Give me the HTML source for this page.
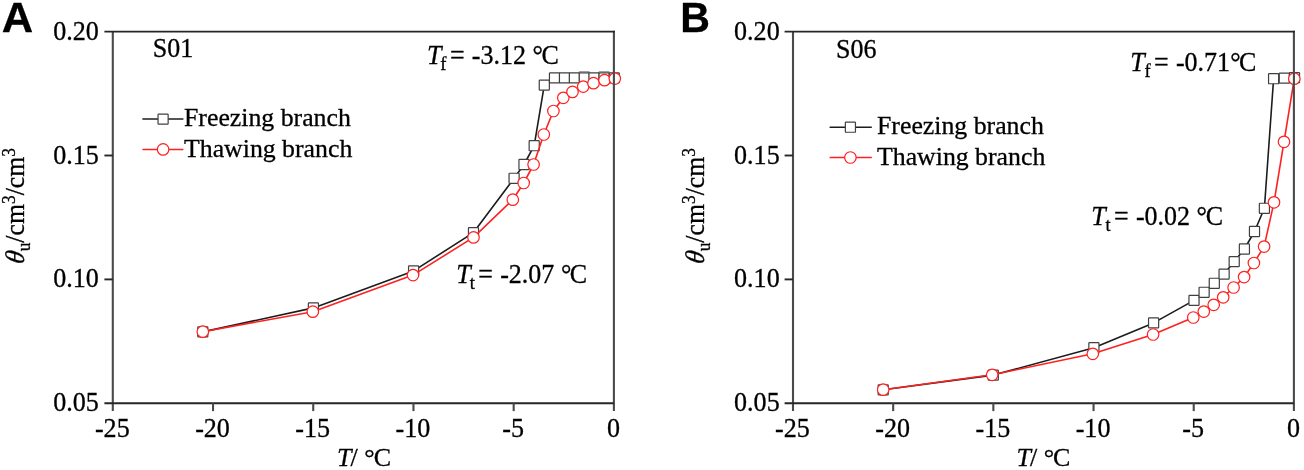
<!DOCTYPE html>
<html><head><meta charset="utf-8"><title>Figure</title>
<style>
html,body{margin:0;padding:0;background:#fff;}
svg{display:block;filter:blur(0.55px);}
text{font-family:"Liberation Serif", serif;fill:#000;stroke:#000;stroke-width:0.3px;}
.tk{font-size:26.1px;}
.an{font-size:26px;}
.lg{font-size:25.8px;}
.yl{font-size:25.8px;}
.pl{font-family:"Liberation Sans",sans-serif;font-weight:bold;font-size:43.5px;fill:#000;}
</style></head>
<body>
<svg width="1304" height="470" viewBox="0 0 1304 470">
<rect width="1304" height="470" fill="#fff"/>
<rect x="579.25" y="71.55" width="10.1" height="10.1" fill="#fff" stroke="#a0a0a0" stroke-width="1.2" rx="0.6"/>
<rect x="599.05" y="71.55" width="10.1" height="10.1" fill="#fff" stroke="#a0a0a0" stroke-width="1.2" rx="0.6"/>
<polyline points="202.80,331.90 313.40,307.90 413.60,270.90 473.50,232.60 514.10,178.30 524.00,164.50 534.20,145.70 544.30,85.10 554.50,77.90 564.50,77.90 574.40,77.90 584.30,77.90 594.00,77.90 604.10,77.90 614.30,77.90" fill="none" stroke="#1c1c1c" stroke-width="1.6" stroke-linejoin="round"/>
<rect x="197.75" y="326.85" width="10.1" height="10.1" fill="#fff" stroke="#404040" stroke-width="1.2" rx="0.6"/>
<rect x="308.35" y="302.85" width="10.1" height="10.1" fill="#fff" stroke="#404040" stroke-width="1.2" rx="0.6"/>
<rect x="408.55" y="265.85" width="10.1" height="10.1" fill="#fff" stroke="#404040" stroke-width="1.2" rx="0.6"/>
<rect x="468.45" y="227.55" width="10.1" height="10.1" fill="#fff" stroke="#404040" stroke-width="1.2" rx="0.6"/>
<rect x="509.05" y="173.25" width="10.1" height="10.1" fill="#fff" stroke="#404040" stroke-width="1.2" rx="0.6"/>
<rect x="518.95" y="159.45" width="10.1" height="10.1" fill="#fff" stroke="#404040" stroke-width="1.2" rx="0.6"/>
<rect x="529.15" y="140.65" width="10.1" height="10.1" fill="#fff" stroke="#404040" stroke-width="1.2" rx="0.6"/>
<rect x="539.25" y="80.05" width="10.1" height="10.1" fill="#fff" stroke="#404040" stroke-width="1.2" rx="0.6"/>
<rect x="549.45" y="72.85" width="10.1" height="10.1" fill="#fff" stroke="#404040" stroke-width="1.2" rx="0.6"/>
<rect x="559.45" y="72.85" width="10.1" height="10.1" fill="#fff" stroke="#404040" stroke-width="1.2" rx="0.6"/>
<rect x="569.35" y="72.85" width="10.1" height="10.1" fill="#fff" stroke="#404040" stroke-width="1.2" rx="0.6"/>
<rect x="579.25" y="72.85" width="10.1" height="10.1" fill="#fff" stroke="#404040" stroke-width="1.2" rx="0.6"/>
<rect x="588.95" y="72.85" width="10.1" height="10.1" fill="#fff" stroke="#404040" stroke-width="1.2" rx="0.6"/>
<rect x="599.05" y="72.85" width="10.1" height="10.1" fill="#fff" stroke="#404040" stroke-width="1.2" rx="0.6"/>
<rect x="609.25" y="72.85" width="10.1" height="10.1" fill="#fff" stroke="#404040" stroke-width="1.2" rx="0.6"/>
<polyline points="202.80,331.70 312.80,311.70 413.00,275.10 473.50,237.40 512.80,199.70 523.70,183.00 533.60,164.50 543.80,134.50 553.40,111.00 563.30,97.80 572.50,91.90 583.20,86.60 593.50,83.20 604.50,80.20 614.80,78.60" fill="none" stroke="#ff2020" stroke-width="1.6" stroke-linejoin="round"/>
<circle cx="202.80" cy="331.70" r="5.75" fill="#fff" stroke="#ff2020" stroke-width="1.2"/>
<circle cx="312.80" cy="311.70" r="5.75" fill="#fff" stroke="#ff2020" stroke-width="1.2"/>
<circle cx="413.00" cy="275.10" r="5.75" fill="#fff" stroke="#ff2020" stroke-width="1.2"/>
<circle cx="473.50" cy="237.40" r="5.75" fill="#fff" stroke="#ff2020" stroke-width="1.2"/>
<circle cx="512.80" cy="199.70" r="5.75" fill="#fff" stroke="#ff2020" stroke-width="1.2"/>
<circle cx="523.70" cy="183.00" r="5.75" fill="#fff" stroke="#ff2020" stroke-width="1.2"/>
<circle cx="533.60" cy="164.50" r="5.75" fill="#fff" stroke="#ff2020" stroke-width="1.2"/>
<circle cx="543.80" cy="134.50" r="5.75" fill="#fff" stroke="#ff2020" stroke-width="1.2"/>
<circle cx="553.40" cy="111.00" r="5.75" fill="#fff" stroke="#ff2020" stroke-width="1.2"/>
<circle cx="563.30" cy="97.80" r="5.75" fill="#fff" stroke="#ff2020" stroke-width="1.2"/>
<circle cx="572.50" cy="91.90" r="5.75" fill="#fff" stroke="#ff2020" stroke-width="1.2"/>
<circle cx="583.20" cy="86.60" r="5.75" fill="#fff" stroke="#ff2020" stroke-width="1.2"/>
<circle cx="593.50" cy="83.20" r="5.75" fill="#fff" stroke="#ff2020" stroke-width="1.2"/>
<circle cx="604.50" cy="80.20" r="5.75" fill="#fff" stroke="#ff2020" stroke-width="1.2"/>
<circle cx="614.80" cy="78.60" r="5.75" fill="#fff" stroke="#ff2020" stroke-width="1.2"/>
<path d="M613.9,30.700000000000003V411.1 M112.8,31.6V411.1" fill="none" stroke="#4a4a4a" stroke-width="2.1"/>
<path d="M104.39999999999999,31.6H614.9 M104.39999999999999,403.3H613.9" fill="none" stroke="#262626" stroke-width="1.9"/>
<line x1="213.02" y1="403.3" x2="213.02" y2="411.1" stroke="#4a4a4a" stroke-width="2.1"/>
<line x1="313.24" y1="403.3" x2="313.24" y2="411.1" stroke="#4a4a4a" stroke-width="2.1"/>
<line x1="413.46" y1="403.3" x2="413.46" y2="411.1" stroke="#4a4a4a" stroke-width="2.1"/>
<line x1="513.68" y1="403.3" x2="513.68" y2="411.1" stroke="#4a4a4a" stroke-width="2.1"/>
<line x1="104.39999999999999" y1="155.50" x2="112.8" y2="155.50" stroke="#262626" stroke-width="1.9"/>
<line x1="104.39999999999999" y1="279.40" x2="112.8" y2="279.40" stroke="#262626" stroke-width="1.9"/>
<text transform="translate(112.30,436.8) scale(1,1.045)" text-anchor="middle" class="tk">-25</text>
<text transform="translate(212.52,436.8) scale(1,1.045)" text-anchor="middle" class="tk">-20</text>
<text transform="translate(312.74,436.8) scale(1,1.045)" text-anchor="middle" class="tk">-15</text>
<text transform="translate(412.96,436.8) scale(1,1.045)" text-anchor="middle" class="tk">-10</text>
<text transform="translate(513.18,436.8) scale(1,1.045)" text-anchor="middle" class="tk">-5</text>
<text transform="translate(613.40,436.8) scale(1,1.045)" text-anchor="middle" class="tk">0</text>
<text transform="translate(98.80,39.60) scale(1,1.045)" text-anchor="end" class="tk">0.20</text>
<text transform="translate(98.80,163.50) scale(1,1.045)" text-anchor="end" class="tk">0.15</text>
<text transform="translate(98.80,287.40) scale(1,1.045)" text-anchor="end" class="tk">0.10</text>
<text transform="translate(98.80,411.30) scale(1,1.045)" text-anchor="end" class="tk">0.05</text>
<polyline points="883.20,389.80 993.30,375.10 1093.90,347.70 1153.60,322.90 1194.00,300.40 1204.10,292.30 1214.30,283.30 1224.10,274.10 1234.20,261.60 1244.40,249.00 1254.50,231.50 1264.40,208.30 1273.60,78.70 1284.30,78.10 1294.50,77.70" fill="none" stroke="#1c1c1c" stroke-width="1.6" stroke-linejoin="round"/>
<rect x="878.15" y="384.75" width="10.1" height="10.1" fill="#fff" stroke="#404040" stroke-width="1.2" rx="0.6"/>
<rect x="988.25" y="370.05" width="10.1" height="10.1" fill="#fff" stroke="#404040" stroke-width="1.2" rx="0.6"/>
<rect x="1088.85" y="342.65" width="10.1" height="10.1" fill="#fff" stroke="#404040" stroke-width="1.2" rx="0.6"/>
<rect x="1148.55" y="317.85" width="10.1" height="10.1" fill="#fff" stroke="#404040" stroke-width="1.2" rx="0.6"/>
<rect x="1188.95" y="295.35" width="10.1" height="10.1" fill="#fff" stroke="#404040" stroke-width="1.2" rx="0.6"/>
<rect x="1199.05" y="287.25" width="10.1" height="10.1" fill="#fff" stroke="#404040" stroke-width="1.2" rx="0.6"/>
<rect x="1209.25" y="278.25" width="10.1" height="10.1" fill="#fff" stroke="#404040" stroke-width="1.2" rx="0.6"/>
<rect x="1219.05" y="269.05" width="10.1" height="10.1" fill="#fff" stroke="#404040" stroke-width="1.2" rx="0.6"/>
<rect x="1229.15" y="256.55" width="10.1" height="10.1" fill="#fff" stroke="#404040" stroke-width="1.2" rx="0.6"/>
<rect x="1239.35" y="243.95" width="10.1" height="10.1" fill="#fff" stroke="#404040" stroke-width="1.2" rx="0.6"/>
<rect x="1249.45" y="226.45" width="10.1" height="10.1" fill="#fff" stroke="#404040" stroke-width="1.2" rx="0.6"/>
<rect x="1259.35" y="203.25" width="10.1" height="10.1" fill="#fff" stroke="#404040" stroke-width="1.2" rx="0.6"/>
<rect x="1268.55" y="73.65" width="10.1" height="10.1" fill="#fff" stroke="#404040" stroke-width="1.2" rx="0.6"/>
<rect x="1279.25" y="73.05" width="10.1" height="10.1" fill="#fff" stroke="#404040" stroke-width="1.2" rx="0.6"/>
<rect x="1289.45" y="72.65" width="10.1" height="10.1" fill="#fff" stroke="#404040" stroke-width="1.2" rx="0.6"/>
<polyline points="883.20,389.70 992.20,374.80 1092.80,353.80 1153.10,334.50 1193.30,317.50 1203.80,311.60 1213.70,304.80 1223.20,297.30 1233.60,287.50 1244.10,277.10 1253.90,263.00 1264.10,246.60 1274.00,202.30 1284.00,141.80 1294.30,78.70" fill="none" stroke="#ff2020" stroke-width="1.6" stroke-linejoin="round"/>
<circle cx="883.20" cy="389.70" r="5.75" fill="#fff" stroke="#ff2020" stroke-width="1.2"/>
<circle cx="992.20" cy="374.80" r="5.75" fill="#fff" stroke="#ff2020" stroke-width="1.2"/>
<circle cx="1092.80" cy="353.80" r="5.75" fill="#fff" stroke="#ff2020" stroke-width="1.2"/>
<circle cx="1153.10" cy="334.50" r="5.75" fill="#fff" stroke="#ff2020" stroke-width="1.2"/>
<circle cx="1193.30" cy="317.50" r="5.75" fill="#fff" stroke="#ff2020" stroke-width="1.2"/>
<circle cx="1203.80" cy="311.60" r="5.75" fill="#fff" stroke="#ff2020" stroke-width="1.2"/>
<circle cx="1213.70" cy="304.80" r="5.75" fill="#fff" stroke="#ff2020" stroke-width="1.2"/>
<circle cx="1223.20" cy="297.30" r="5.75" fill="#fff" stroke="#ff2020" stroke-width="1.2"/>
<circle cx="1233.60" cy="287.50" r="5.75" fill="#fff" stroke="#ff2020" stroke-width="1.2"/>
<circle cx="1244.10" cy="277.10" r="5.75" fill="#fff" stroke="#ff2020" stroke-width="1.2"/>
<circle cx="1253.90" cy="263.00" r="5.75" fill="#fff" stroke="#ff2020" stroke-width="1.2"/>
<circle cx="1264.10" cy="246.60" r="5.75" fill="#fff" stroke="#ff2020" stroke-width="1.2"/>
<circle cx="1274.00" cy="202.30" r="5.75" fill="#fff" stroke="#ff2020" stroke-width="1.2"/>
<circle cx="1284.00" cy="141.80" r="5.75" fill="#fff" stroke="#ff2020" stroke-width="1.2"/>
<circle cx="1294.30" cy="78.70" r="5.75" fill="#fff" stroke="#ff2020" stroke-width="1.2"/>
<path d="M1293.9,30.700000000000003V411.1 M793.0,31.6V411.1" fill="none" stroke="#4a4a4a" stroke-width="2.1"/>
<path d="M784.6,31.6H1294.9 M784.6,403.3H1293.9" fill="none" stroke="#262626" stroke-width="1.9"/>
<line x1="893.18" y1="403.3" x2="893.18" y2="411.1" stroke="#4a4a4a" stroke-width="2.1"/>
<line x1="993.36" y1="403.3" x2="993.36" y2="411.1" stroke="#4a4a4a" stroke-width="2.1"/>
<line x1="1093.54" y1="403.3" x2="1093.54" y2="411.1" stroke="#4a4a4a" stroke-width="2.1"/>
<line x1="1193.72" y1="403.3" x2="1193.72" y2="411.1" stroke="#4a4a4a" stroke-width="2.1"/>
<line x1="784.6" y1="155.50" x2="793.0" y2="155.50" stroke="#262626" stroke-width="1.9"/>
<line x1="784.6" y1="279.40" x2="793.0" y2="279.40" stroke="#262626" stroke-width="1.9"/>
<text transform="translate(792.50,436.8) scale(1,1.045)" text-anchor="middle" class="tk">-25</text>
<text transform="translate(892.68,436.8) scale(1,1.045)" text-anchor="middle" class="tk">-20</text>
<text transform="translate(992.86,436.8) scale(1,1.045)" text-anchor="middle" class="tk">-15</text>
<text transform="translate(1093.04,436.8) scale(1,1.045)" text-anchor="middle" class="tk">-10</text>
<text transform="translate(1193.22,436.8) scale(1,1.045)" text-anchor="middle" class="tk">-5</text>
<text transform="translate(1293.40,436.8) scale(1,1.045)" text-anchor="middle" class="tk">0</text>
<text transform="translate(779.70,39.60) scale(1,1.045)" text-anchor="end" class="tk">0.20</text>
<text transform="translate(779.70,163.50) scale(1,1.045)" text-anchor="end" class="tk">0.15</text>
<text transform="translate(779.70,287.40) scale(1,1.045)" text-anchor="end" class="tk">0.10</text>
<text transform="translate(779.70,411.30) scale(1,1.045)" text-anchor="end" class="tk">0.05</text>
<line x1="142.4" y1="119.1" x2="183.4" y2="119.1" stroke="#1c1c1c" stroke-width="1.5"/>
<rect x="158.05" y="114.05" width="10.1" height="10.1" fill="#fff" stroke="#404040" stroke-width="1.2" rx="0.6"/>
<line x1="142.4" y1="149.4" x2="183.4" y2="149.4" stroke="#ff2020" stroke-width="1.5"/>
<circle cx="163.10" cy="149.40" r="5.75" fill="#fff" stroke="#ff2020" stroke-width="1.2"/>
<text transform="translate(184,126.1) scale(1,0.975)" class="lg">Freezing branch</text>
<text transform="translate(184,157.3) scale(1,0.975)" class="lg">Thawing branch</text>
<line x1="829.6" y1="127.2" x2="871.8" y2="127.2" stroke="#1c1c1c" stroke-width="1.5"/>
<rect x="845.35" y="122.15" width="10.1" height="10.1" fill="#fff" stroke="#404040" stroke-width="1.2" rx="0.6"/>
<line x1="829.6" y1="157.5" x2="871.8" y2="157.5" stroke="#ff2020" stroke-width="1.5"/>
<circle cx="850.40" cy="157.50" r="5.75" fill="#fff" stroke="#ff2020" stroke-width="1.2"/>
<text transform="translate(877.0,134.1) scale(1,0.975)" class="lg">Freezing branch</text>
<text transform="translate(877.0,164.8) scale(1,0.975)" class="lg">Thawing branch</text>
<text transform="translate(152.7,56.9) scale(1,1.045)" class="an">S01</text>
<text transform="translate(836.1,57.6) scale(1,1.045)" class="an">S06</text>
<text transform="translate(426.9,63.7) scale(1,1.045)" class="an"><tspan font-style="italic">T</tspan><tspan dx="-1.0" dy="6" font-size="18.5">f</tspan><tspan dx="3.4" dy="-6">=</tspan><tspan dx="0.7">&#160;-3.12&#160;</tspan><tspan dx="0.2">°</tspan><tspan dx="-1.6">C</tspan></text>
<text transform="translate(456.3,282.8) scale(1,1.045)" class="an"><tspan font-style="italic">T</tspan><tspan dx="-1.0" dy="6" font-size="18.5">t</tspan><tspan dx="3.4" dy="-6">=</tspan><tspan dx="0.7">&#160;-2.07&#160;</tspan><tspan dx="0.2">°</tspan><tspan dx="-1.6">C</tspan></text>
<text transform="translate(1130.2,70.9) scale(1,1.045)" class="an"><tspan font-style="italic">T</tspan><tspan dx="-0.2" dy="6" font-size="18.5">f</tspan><tspan dx="3.4" dy="-6">=</tspan><tspan dx="0.7">&#160;-0.71</tspan><tspan dx="0.2">°</tspan><tspan dx="-1.6">C</tspan></text>
<text transform="translate(1091.2,225) scale(1,1.045)" class="an"><tspan font-style="italic">T</tspan><tspan dx="-0.2" dy="6" font-size="18.5">t</tspan><tspan dx="3.4" dy="-6">=</tspan><tspan dx="0.7">&#160;-0.02&#160;</tspan><tspan dx="0.0">°</tspan><tspan dx="-1.2">C</tspan></text>
<text transform="translate(23.5,264.7) rotate(-90) scale(1,1.045) skewX(-9)" class="yl" font-style="italic">θ</text><text transform="translate(23.5,250.83) rotate(-90) scale(1,1.045)" class="yl"><tspan dx="-0.5" dy="6" font-size="17.3">u</tspan><tspan dy="-6">/cm</tspan><tspan dy="-8.2" font-size="17.3">3</tspan><tspan dy="8.2">/cm</tspan><tspan dy="-8.2" font-size="17.3">3</tspan></text>
<text transform="translate(703.5,264.7) rotate(-90) scale(1,1.045) skewX(-9)" class="yl" font-style="italic">θ</text><text transform="translate(703.5,250.83) rotate(-90) scale(1,1.045)" class="yl"><tspan dx="-0.5" dy="6" font-size="17.3">u</tspan><tspan dy="-6">/cm</tspan><tspan dy="-8.2" font-size="17.3">3</tspan><tspan dy="8.2">/cm</tspan><tspan dy="-8.2" font-size="17.3">3</tspan></text>
<text transform="translate(337,465.8) scale(1,1.0)" class="an"><tspan font-style="italic">T</tspan><tspan dx="-0.9">/ °</tspan><tspan dx="-1">C</tspan></text>
<text transform="translate(1016.4,465.8) scale(1,1.0)" class="an"><tspan font-style="italic">T</tspan><tspan dx="-0.9">/ °</tspan><tspan dx="-1">C</tspan></text>
<text transform="translate(1.8,32.4) scale(1,0.958)" class="pl">A</text>
<text transform="translate(680.3,32.4) scale(0.945,0.958)" class="pl">B</text>
</svg>
</body></html>
